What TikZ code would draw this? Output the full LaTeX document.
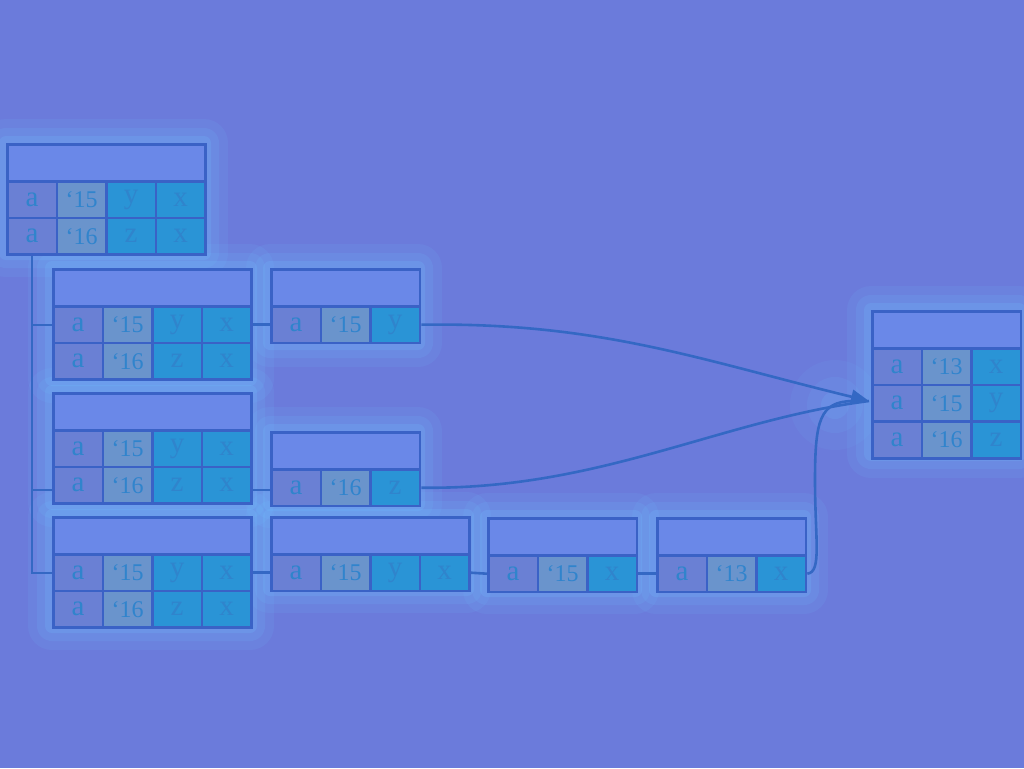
\documentclass[tikz,border=0pt]{standalone}
\usepackage{fontspec}
\setmainfont{Liberation Serif}
\usetikzlibrary{arrows.meta}
\definecolor{bg}{HTML}{6B7BDB}
\definecolor{hdrfill}{HTML}{6A88E8}
\definecolor{border}{HTML}{3A62C6}
\definecolor{acol}{HTML}{6A80D4}
\definecolor{ycol}{HTML}{6A94CC}
\definecolor{lcol}{HTML}{2A94D6}
\definecolor{txt}{HTML}{3084CC}
\definecolor{glowc}{HTML}{70C0FF}
\definecolor{linec}{HTML}{3468C4}
\tikzset{
  cellbox/.style={draw=border, line width=2.8pt, minimum width=49.5pt, minimum height=36.6pt,
    inner sep=0pt, anchor=north west, text=txt, font=\fontsize{29}{29}\selectfont},
  hdrbox/.style={draw=border, line width=2.8pt, minimum height=37pt, inner sep=0pt,
    anchor=north west, fill=hdrfill},
  conn/.style={draw=linec, line width=2.6pt},
}
\newcommand\yr[1]{{\fontsize{24}{24}\selectfont #1}}
% glow around a box: x y width height
\newcommand\glowbox[4]{%
  \foreach \g/\o in {24/0.10,15/0.14,7/0.20}{%
    \fill[glowc, opacity=\o, rounded corners=\g pt] (#1-\g,#2-\g) rectangle (#1+#3+\g,#2+#4+\g);}}
% header: name x y ncols
\newcommand\hdr[4]{\node[hdrbox, minimum width=#4*49.5pt] (#1-h) at (#2,#3) {};}
% cell: name x y col row style text
\newcommand\cel[7]{\node[cellbox, fill=#6] (#1) at ({#2+(#4-1)*49.5},{#3+37+(#5-1)*36.6}) {#7};}
\begin{document}
\begin{tikzpicture}[x=1pt,y=-1pt]
\fill[bg] (0,0) rectangle (1024,768);
\useasboundingbox (0,0) rectangle (1024,768);
% glows
\glowbox{6}{143}{198}{110}
\glowbox{52}{268}{198}{111}
\glowbox{270}{268}{148}{75}
\glowbox{52}{392}{198}{111}
\glowbox{270}{431}{148}{73}
\glowbox{52}{516}{198}{110}
\glowbox{270}{516}{197}{73}
\glowbox{487}{517}{148}{73}
\glowbox{656}{517}{148}{73}
\glowbox{871}{310}{148}{144}
\foreach \g/\o in {45/0.08,28/0.1,14/0.14}{\fill[glowc,opacity=\o] (835,405) circle (\g);}

% Table 1
\hdr{t1}{6}{143}{4}
\cel{t1-11}{6}{143}{1}{1}{acol}{a}
\cel{t1-12}{6}{143}{2}{1}{ycol}{\yr{‘15}}
\cel{t1-13}{6}{143}{3}{1}{lcol}{y}
\cel{t1-14}{6}{143}{4}{1}{lcol}{x}
\cel{t1-21}{6}{143}{1}{2}{acol}{a}
\cel{t1-22}{6}{143}{2}{2}{ycol}{\yr{‘16}}
\cel{t1-23}{6}{143}{3}{2}{lcol}{z}
\cel{t1-24}{6}{143}{4}{2}{lcol}{x}
% Table 2
\hdr{t2}{52}{268}{4}
\cel{t2-11}{52}{268}{1}{1}{acol}{a}
\cel{t2-12}{52}{268}{2}{1}{ycol}{\yr{‘15}}
\cel{t2-13}{52}{268}{3}{1}{lcol}{y}
\cel{t2-14}{52}{268}{4}{1}{lcol}{x}
\cel{t2-21}{52}{268}{1}{2}{acol}{a}
\cel{t2-22}{52}{268}{2}{2}{ycol}{\yr{‘16}}
\cel{t2-23}{52}{268}{3}{2}{lcol}{z}
\cel{t2-24}{52}{268}{4}{2}{lcol}{x}
% Table 3
\hdr{t3}{270}{268}{3}
\cel{t3-11}{270}{268}{1}{1}{acol}{a}
\cel{t3-12}{270}{268}{2}{1}{ycol}{\yr{‘15}}
\cel{t3-13}{270}{268}{3}{1}{lcol}{y}
% Table 4
\hdr{t4}{52}{392}{4}
\cel{t4-11}{52}{392}{1}{1}{acol}{a}
\cel{t4-12}{52}{392}{2}{1}{ycol}{\yr{‘15}}
\cel{t4-13}{52}{392}{3}{1}{lcol}{y}
\cel{t4-14}{52}{392}{4}{1}{lcol}{x}
\cel{t4-21}{52}{392}{1}{2}{acol}{a}
\cel{t4-22}{52}{392}{2}{2}{ycol}{\yr{‘16}}
\cel{t4-23}{52}{392}{3}{2}{lcol}{z}
\cel{t4-24}{52}{392}{4}{2}{lcol}{x}
% Table 5
\hdr{t5}{270}{431}{3}
\cel{t5-11}{270}{431}{1}{1}{acol}{a}
\cel{t5-12}{270}{431}{2}{1}{ycol}{\yr{‘16}}
\cel{t5-13}{270}{431}{3}{1}{lcol}{z}
% Table 6
\hdr{t6}{52}{516}{4}
\cel{t6-11}{52}{516}{1}{1}{acol}{a}
\cel{t6-12}{52}{516}{2}{1}{ycol}{\yr{‘15}}
\cel{t6-13}{52}{516}{3}{1}{lcol}{y}
\cel{t6-14}{52}{516}{4}{1}{lcol}{x}
\cel{t6-21}{52}{516}{1}{2}{acol}{a}
\cel{t6-22}{52}{516}{2}{2}{ycol}{\yr{‘16}}
\cel{t6-23}{52}{516}{3}{2}{lcol}{z}
\cel{t6-24}{52}{516}{4}{2}{lcol}{x}
% Table 7
\hdr{t7}{270}{516}{4}
\cel{t7-11}{270}{516}{1}{1}{acol}{a}
\cel{t7-12}{270}{516}{2}{1}{ycol}{\yr{‘15}}
\cel{t7-13}{270}{516}{3}{1}{lcol}{y}
\cel{t7-14}{270}{516}{4}{1}{lcol}{x}
% Table 8
\hdr{t8}{487}{517}{3}
\cel{t8-11}{487}{517}{1}{1}{acol}{a}
\cel{t8-12}{487}{517}{2}{1}{ycol}{\yr{‘15}}
\cel{t8-13}{487}{517}{3}{1}{lcol}{x}
% Table 9
\hdr{t9}{656}{517}{3}
\cel{t9-11}{656}{517}{1}{1}{acol}{a}
\cel{t9-12}{656}{517}{2}{1}{ycol}{\yr{‘13}}
\cel{t9-13}{656}{517}{3}{1}{lcol}{x}
% Table 10
\hdr{t10}{871}{310}{3}
\cel{t10-11}{871}{310}{1}{1}{acol}{a}
\cel{t10-12}{871}{310}{2}{1}{ycol}{\yr{‘13}}
\cel{t10-13}{871}{310}{3}{1}{lcol}{x}
\cel{t10-21}{871}{310}{1}{2}{acol}{a}
\cel{t10-22}{871}{310}{2}{2}{ycol}{\yr{‘15}}
\cel{t10-23}{871}{310}{3}{2}{lcol}{y}
\cel{t10-31}{871}{310}{1}{3}{acol}{a}
\cel{t10-32}{871}{310}{2}{3}{ycol}{\yr{‘16}}
\cel{t10-33}{871}{310}{3}{3}{lcol}{z}

% tree connectors
\coordinate (trunk) at (32,253);
\coordinate (b2) at (32,325);
\coordinate (b4) at (32,490);
\coordinate (b6) at (32,573);
\draw[conn] (t1-21.south east -| trunk) -- (b6) -- (b6 -| t6-11.west);
\draw[conn] (b2) -- (b2 -| t2-11.west);
\draw[conn] (b4) -- (b4 -| t4-21.west);
% chains
\draw[conn] (t2-14.east) -- (t3-11.west);
\draw[conn] (t4-24.east |- b4) -- (b4 -| t5-11.west);
\draw[conn] (t6-14.east) -- (t7-11.west);
\draw[conn] (t7-14.east) -- (t8-11.west);
\draw[conn] (t8-13.east) -- (t9-11.west);
% curves to result
\coordinate (tip) at (869,401);
\draw[conn, -{Triangle[length=18pt,width=14pt]}] (t3-13.east) .. controls (600,322) and (700,360) .. (tip);
\draw[conn] (t5-13.east) .. controls (600,490) and (720,420) .. (tip);
\draw[conn] (t9-13.east) .. controls (822,572) and (815,540) .. (815,480)
  .. controls (815,420) and (820,402) .. (852,401);
\end{tikzpicture}
\end{document}
